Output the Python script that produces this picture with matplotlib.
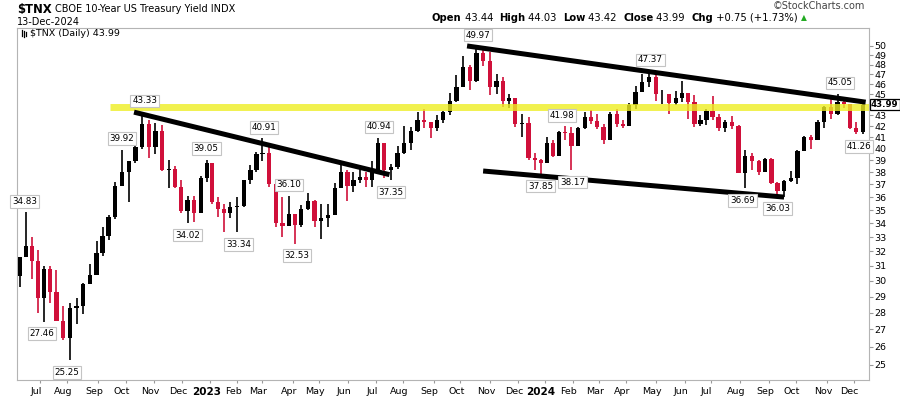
import matplotlib
matplotlib.use("Agg")
import matplotlib.pyplot as plt
from matplotlib.ticker import NullLocator
from matplotlib.lines import Line2D
from matplotlib.transforms import ScaledTranslation
import numpy as np
import pandas as pd

# NYSE holidays in the chart window
holidays = ["2022-06-20", "2022-07-04", "2022-09-05", "2022-11-24", "2022-12-26",
            "2023-01-02", "2023-01-16", "2023-02-20", "2023-04-07", "2023-05-29",
            "2023-06-19", "2023-07-04", "2023-09-04", "2023-11-23", "2023-12-25",
            "2024-01-01", "2024-01-15", "2024-02-19", "2024-03-29", "2024-05-27",
            "2024-06-19", "2024-07-04", "2024-09-02", "2024-11-28"]
start_date = "2022-06-08"
end_date = "2024-12-13"
first_open = 30.3

# weekly high / low / close ($TNX, yield x10), one value per week ending Friday
highs_2022 = [31.6, 34.83, 33.0, 32.1, 31.0, 31.0, 30.7, 28.4, 28.6, 28.9,
              29.9, 31.1, 32.7, 33.7, 34.6, 37.2, 39.92, 38.9, 40.2, 43.33,
              42.6, 42.3, 42.1, 39.0, 38.5, 37.4, 36.1, 36.1, 37.7, 39.05]
lows_2022 = [29.6, 31.6, 30.1, 28.0, 27.46, 28.6, 27.5, 26.4, 25.25, 27.3,
             27.9, 29.8, 30.8, 31.7, 32.8, 34.3, 36.9, 35.6, 38.8, 40.0,
             39.2, 39.5, 38.1, 36.7, 36.7, 34.8, 34.02, 34.1, 35.8, 37.2]
closes_2022 = [31.6, 32.4, 31.3, 28.9, 30.8, 29.3, 27.5, 26.5, 28.3, 28.4,
               29.8, 30.4, 31.9, 33.1, 34.5, 36.9, 38.0, 38.9, 40.1, 42.2,
               40.1, 41.6, 38.2, 38.3, 36.8, 34.9, 35.8, 34.8, 37.5, 38.8]

highs_2023 = [38.0, 36.0, 35.5, 35.6, 36.0, 37.4, 38.6, 39.7, 40.91, 40.2,
              37.3, 36.0, 36.1, 34.7, 35.4, 36.3, 35.8, 35.5, 35.5, 37.1,
              38.6, 38.2, 38.0, 38.4, 38.0, 38.9, 40.94, 40.2, 38.7, 40.2,
              42.0, 41.9, 43.3, 43.6, 42.3, 43.0, 43.4, 45.1, 46.9, 48.9,
              48.0, 49.97, 49.9, 49.3, 47.0, 46.7, 45.0, 44.7, 43.1, 42.8,
              39.6, 39.1]
lows_2023 = [35.5, 34.5, 33.4, 34.4, 33.34, 35.2, 37.0, 38.0, 38.9, 36.8,
             33.7, 33.0, 34.7, 32.53, 33.7, 35.0, 33.7, 32.9, 33.7, 34.6,
             36.7, 35.7, 36.4, 37.1, 36.8, 36.8, 38.1, 37.5, 37.35, 38.3,
             39.5, 39.9, 41.5, 41.8, 40.9, 41.6, 42.3, 43.0, 44.3, 46.3,
             45.4, 46.2, 47.9, 44.9, 45.0, 43.8, 43.7, 41.9, 41.0, 39.0,
             38.2, 37.85]
closes_2023 = [35.6, 35.1, 34.8, 35.2, 35.3, 37.4, 38.2, 39.5, 39.6, 37.0,
               34.0, 33.8, 34.7, 33.9, 35.1, 35.7, 34.2, 34.4, 34.6, 36.7,
               38.0, 36.9, 37.4, 37.6, 37.4, 38.2, 40.5, 38.2, 38.4, 39.6,
               40.5, 41.6, 42.6, 42.4, 41.8, 42.6, 43.3, 44.4, 45.7, 47.8,
               46.3, 49.2, 48.4, 45.7, 46.3, 44.4, 44.7, 42.2, 42.3, 39.2,
               39.0, 38.8]

highs_2024 = [41.0, 40.8, 41.6, 41.98, 41.9, 41.9, 43.3, 43.5, 43.1, 42.2,
              43.3, 43.6, 42.6, 44.2, 45.8, 47.0, 47.37, 46.9, 45.4, 45.0,
              45.3, 46.3, 44.7, 44.9, 43.0, 43.6, 44.8, 43.1, 42.6, 42.9,
              42.1, 39.9, 39.6, 39.0, 39.2, 39.2, 37.2, 37.4, 38.1, 39.9,
              41.1, 41.2, 42.6, 43.9, 44.8, 45.05, 44.5, 43.9, 42.4, 44.03]
lows_2024 = [38.9, 39.3, 39.4, 40.8, 38.17, 40.2, 41.7, 42.2, 41.7, 40.4,
             40.8, 41.9, 41.8, 42.7, 43.6, 45.3, 45.7, 44.4, 44.1, 43.1,
             44.0, 44.3, 42.7, 41.9, 42.0, 42.1, 42.6, 41.6, 41.5, 41.7,
             37.9, 36.69, 38.2, 37.8, 38.0, 37.0, 36.03, 36.0, 37.2, 37.0,
             39.8, 40.0, 41.3, 41.8, 42.7, 43.0, 43.7, 41.7, 41.26, 41.3]
closes_2024 = [40.5, 39.4, 41.5, 41.4, 40.2, 41.8, 42.8, 42.5, 41.9, 40.8,
               43.1, 42.2, 42.0, 44.0, 45.2, 46.2, 46.7, 45.0, 45.0, 44.2,
               44.7, 45.1, 44.3, 42.2, 42.6, 43.4, 42.8, 41.8, 42.4, 42.0,
               37.9, 39.4, 38.9, 38.0, 39.1, 37.1, 36.5, 37.3, 37.5, 39.8,
               41.0, 40.8, 42.4, 43.8, 43.1, 44.3, 44.1, 41.8, 41.5, 43.99]

# marked highs / lows
mark_dates = ["2022-06-14", "2022-07-05", "2022-08-01", "2022-09-28", "2022-10-21",
              "2022-12-07", "2022-12-28", "2023-02-02", "2023-03-02", "2023-03-29",
              "2023-04-06", "2023-07-06", "2023-07-19", "2023-10-19", "2023-12-27",
              "2024-01-22", "2024-02-01", "2024-04-25", "2024-08-05", "2024-09-11",
              "2024-11-15", "2024-12-06"]
mark_values = [34.83, 27.46, 25.25, 39.92, 43.33, 34.02, 39.05, 33.34, 40.91, 36.10,
               32.53, 40.94, 37.35, 49.97, 37.85, 41.98, 38.17, 47.37, 36.69, 36.03,
               45.05, 41.26]
mark_above = [True, False, False, True, True, False, True, False, True, True,
              False, True, False, True, False, True, False, True, False, False,
              True, False]

# trendlines: (start date, value, end date, value)
trendlines = [("2022-10-11", 43.3, "2023-07-18", 37.8),
              ("2023-10-09", 50.0, "2024-12-13", 44.25),
              ("2023-10-25", 38.1, "2024-09-18", 36.0)]
resistance = 43.8
resistance_from = "2022-09-15"

last_close = 43.99
y_ticks = [t for t in range(25, 51) if t != 44]

# ---------------------------------------------------------------
days = pd.bdate_range(start_date, end_date, freq="C", holidays=holidays)
day_idx = pd.Series(np.arange(len(days)), index=days)


def pos(d):
    return day_idx.index.get_indexer([pd.Timestamp(d)], method="nearest")[0]


week_pos = day_idx.groupby(days.to_period("W-FRI")).mean().values

highs = np.array(highs_2022 + highs_2023 + highs_2024)
lows = np.array(lows_2022 + lows_2023 + lows_2024)
closes = np.array(closes_2022 + closes_2023 + closes_2024)
opens = np.concatenate([[first_open], closes[:-1]])
assert len(week_pos) == len(closes), (len(week_pos), len(closes))

RED = "#d0103a"
up = closes >= opens
colors = np.where(up, "black", RED)

fig = plt.figure(figsize=(9, 3.96), dpi=100)
W, H = 900, 396
ax = fig.add_axes([17 / W, (H - 380) / H, (869 - 17) / W, (380 - 28) / H])

ax.set_yscale("log")
ax.set_ylim(24.19, 51.99)
ax.set_xlim(-1.5, len(days) + 1.5)

ax.vlines(week_pos, lows, highs, colors=colors, lw=1.2, zorder=3)
ax.bar(week_pos, np.abs(closes - opens), bottom=np.minimum(opens, closes),
       width=3.2, color=colors, zorder=3)

# resistance line
ax.plot([pos(resistance_from), len(days) + 1.5], [resistance, resistance],
        color="#eeee22", lw=5, alpha=0.8, zorder=4, solid_capstyle="butt")

for d0, v0, d1, v1 in trendlines:
    ax.plot([pos(d0), pos(d1)], [v0, v1], color="black", lw=3.6, zorder=5,
            solid_capstyle="butt")

for d, v, a in zip(mark_dates, mark_values, mark_above):
    ax.annotate(f"{v:.2f}", xy=(pos(d), v), xytext=(0, 11 if a else -12),
                textcoords="offset pixels", ha="center", va="center", fontsize=6.3,
                bbox=dict(boxstyle="square,pad=0.2", fc="white", ec="#c4c4c4", lw=0.8),
                zorder=6)

# axes styling
for s in ["left", "top", "bottom", "right"]:
    ax.spines[s].set_color("#b4b4b4")
    ax.spines[s].set_linewidth(0.8)

ax.yaxis.tick_right()
ax.yaxis.set_minor_locator(NullLocator())
ax.set_yticks(y_ticks)
ax.set_yticklabels([str(t) for t in y_ticks])
ax.tick_params(axis="y", which="major", length=3, color="#999999", labelsize=6.8,
               pad=1, labelcolor="black")

# month ticks at first trading day of each month
month_first = day_idx.groupby(days.to_period("M")).min()
mpos, mlab = [], []
for per, i in month_first.items():
    if i == 0:
        continue
    mpos.append(i)
    mlab.append(str(per.year) if per.month == 1 else per.strftime("%b"))
ax.set_xticks(mpos)
ax.set_xticklabels(mlab)
ax.tick_params(axis="x", length=2, color="#999999", labelsize=6.8, pad=3)
shift = ScaledTranslation(-4 / 100, 0, fig.dpi_scale_trans)
for t in ax.get_xticklabels():
    t.set_transform(t.get_transform() + shift)
    if t.get_text().isdigit():
        t.set_fontweight("bold")
        t.set_fontsize(7.5)

# last value tag
ax.annotate(f"{last_close:.2f}", xy=(1, last_close), xycoords=("axes fraction", "data"),
            xytext=(2, 0), textcoords="offset pixels", ha="left", va="center",
            fontsize=6.2, fontweight="bold", annotation_clip=False, zorder=10,
            bbox=dict(boxstyle="square,pad=0.12", fc="white", ec="black", lw=0.9))

# header
def ftext(x, y, s, **kw):
    return fig.text(x / W, 1 - y / H, s, **kw)

ftext(17, 9, "$TNX", fontsize=8.4, fontweight="bold", va="center")
ftext(55, 9, "CBOE 10-Year US Treasury Yield INDX", fontsize=7, va="center")
ftext(17, 22, "13-Dec-2024", fontsize=7, va="center")
ftext(865, 6, "\u00a9StockCharts.com", fontsize=7, va="center", ha="right", color="#444444")

parts = [("Open", True), (" 43.44  ", False), ("High", True), (" 44.03  ", False),
         ("Low", True), (" 43.42  ", False), ("Close", True), (" 43.99  ", False),
         ("Chg", True), (" +0.75 (+1.73%)", False)]
renderer = fig.canvas.get_renderer()
x = 432
for s, b in parts:
    t = ftext(x, 18, s, fontsize=7.2, va="center", fontweight="bold" if b else "normal")
    x += t.get_window_extent(renderer).width
ftext(x + 3, 18, "\u25b2", fontsize=5.5, va="center", color="#22aa22")

# small bar icon in front of the legend text
for k, (lo, hi) in enumerate([(30, 36), (31, 37), (32, 36)]):
    fig.add_artist(Line2D([(22 + 2 * k) / W] * 2, [1 - hi / H, 1 - lo / H],
                          color="black", lw=0.9))
ftext(30, 34, "$TNX (Daily) 43.99", fontsize=6.8, va="center")

fig.savefig("out.png", dpi=100)
